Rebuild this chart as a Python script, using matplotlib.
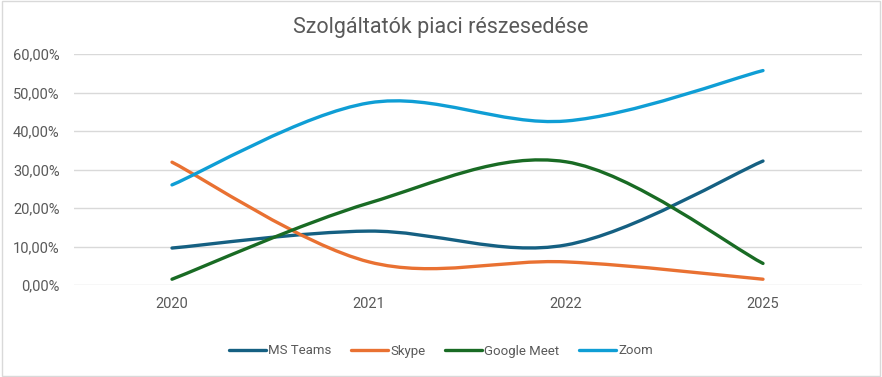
import numpy as np
import matplotlib
matplotlib.use("Agg")
import matplotlib.pyplot as plt
from matplotlib.path import Path
from matplotlib.patches import PathPatch, Rectangle
from matplotlib.lines import Line2D
from matplotlib.ticker import FuncFormatter

categories = ["2020", "2021", "2022", "2025"]
ms_teams = [9.6, 14.0, 10.4, 32.2]
skype = [31.9, 6.0, 6.0, 1.5]
google_meet = [1.5, 21.3, 32.0, 5.6]
zoom = [26.0, 47.3, 42.6, 55.7]
series_names = ["MS Teams", "Skype", "Google Meet", "Zoom"]
colors = ["#156082", "#E97132", "#196B24", "#0F9ED5"]
y_ticks = [0, 10, 20, 30, 40, 50, 60]

plt.rcParams['font.family'] = ['Roboto', 'DejaVu Sans']

fig = plt.figure(figsize=(8.82, 3.77), dpi=100)
ax = fig.add_axes([73.5/882, 1-285/377, (861.5-73.5)/882, (285-54)/377])

def smooth_path(xs, ys):
    pts = np.column_stack([xs, ys]).astype(float)
    n = len(pts)
    verts = [pts[0]]
    codes = [Path.MOVETO]
    for i in range(n-1):
        p0 = pts[i-1] if i > 0 else pts[i]
        p1 = pts[i]
        p2 = pts[i+1]
        p3 = pts[i+2] if i+2 < n else pts[i+1]
        c1 = p1 + (p2 - p0) / 6.0
        c2 = p2 - (p3 - p1) / 6.0
        verts += [c1, c2, p2]
        codes += [Path.CURVE4]*3
    return Path(verts, codes)

x = np.arange(len(categories))
all_series = [ms_teams, skype, google_meet, zoom]
for vals, c in zip(all_series, colors):
    p = smooth_path(x, vals)
    ax.add_patch(PathPatch(p, facecolor='none', edgecolor=c, lw=2.4, capstyle='round', zorder=3))

ax.set_xlim(-0.5, len(categories)-0.5)
ax.set_ylim(0, 60)
ax.set_yticks(y_ticks)
ax.yaxis.set_major_formatter(FuncFormatter(lambda v, _: f"{v:.2f}".replace('.', ',') + "%"))
ax.set_xticks(x)
ax.set_xticklabels(categories)
ax.grid(axis='y', color='#D9D9D9', lw=1)
ax.set_axisbelow(True)
for s in ax.spines.values():
    s.set_visible(False)
ax.tick_params(length=0, colors='#595959', labelsize=10.5)
ax.tick_params(axis='x', pad=9)
ax.tick_params(axis='y', pad=10)

fig.text(0.5, 1-28/377, "Szolgáltatók piaci részesedése", ha='center', va='center',
         fontsize=15.5, color='#595959')

handles = [Line2D([0], [0], color=c, lw=2.4, solid_capstyle='round') for c in colors]
fig.legend(handles, series_names, loc='center', bbox_to_anchor=(0.5, 1-351/377), ncol=4,
           frameon=False, fontsize=9.5, handlelength=2.8, handletextpad=0.15, columnspacing=1.5,
           labelcolor='#595959')

fig.patches.append(Rectangle((0.002, 0.003), 0.996, 0.994, transform=fig.transFigure,
                             fill=False, edgecolor='#D9D9D9', lw=1))

fig.savefig("out.png", dpi=100)
